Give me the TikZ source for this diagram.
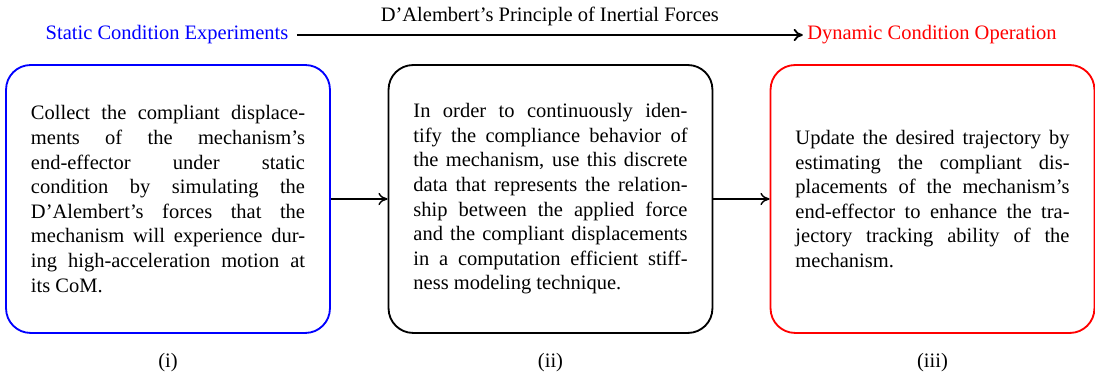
\documentclass[tikz,border=0pt]{standalone}
\usepackage{fontspec}
\setmainfont{Liberation Serif}
\usetikzlibrary{arrows.meta}
\begin{document}
\begin{tikzpicture}[x=0.4878pt, y=-0.4878pt,
  stagebox/.style={draw, line width=0.9pt, rounded corners=12pt,
    minimum width=158pt, minimum height=130.7pt,
    text width=133.7pt, inner xsep=12.15pt, align=justify,
    font=\fontsize{10}{12}\selectfont},
  heading/.style={font=\fontsize{10}{12}\selectfont, inner sep=1pt},
  link/.style={line width=0.7pt, -{To[length=4.5pt,width=6pt]}},
  caption/.style={font=\fontsize{10}{12}\selectfont}]
  \useasboundingbox (0,0) rectangle (1095,376);

  % top row: the two operating regimes
  \node[heading, text=blue, anchor=base] (static) at (167,40) {Static Condition Experiments};
  \node[heading, text=red, anchor=base] (dynamic) at (932,40) {Dynamic Condition Operation};
  \draw[link, line width=0.9pt] ([xshift=3pt]static.east |- 0,35) -- ([xshift=-1pt]dynamic.west |- 0,35)
    node[midway, above=3pt, heading] (principle) {D'Alembert's Principle of Inertial Forces};

  % the three stages
  \node[stagebox, draw=blue] (s1) at (168,199) {%
    Collect the compliant displace-\linebreak
    ments of the mechanism's\linebreak
    end-effector under static\linebreak
    condition by simulating the\linebreak
    D'Alembert's forces that the\linebreak
    mechanism will experience dur-\linebreak
    ing high-acceleration motion at\linebreak
    its CoM.};
  \node[stagebox, draw=black] (s2) at (550.5,199) {%
    In order to continuously iden-\linebreak
    tify the compliance behavior of\linebreak
    the mechanism, use this discrete\linebreak
    data that represents the relation-\linebreak
    ship between the applied force\linebreak
    and the compliant displacements\linebreak
    in a computation efficient stiff-\linebreak
    ness modeling technique.};
  \node[stagebox, draw=red] (s3) at (932.5,199) {%
    Update the desired trajectory by\linebreak
    estimating the compliant dis-\linebreak
    placements of the mechanism's\linebreak
    end-effector to enhance the tra-\linebreak
    jectory tracking ability of the\linebreak
    mechanism.};

  \draw[link] (s1) -- (s2);
  \draw[link] (s2) -- (s3);

  % stage labels
  \node[caption] (c1) at (168,363) {(i)};
  \node[caption] (c2) at (550.5,363) {(ii)};
  \node[caption] (c3) at (932.5,363) {(iii)};
\end{tikzpicture}
\end{document}
